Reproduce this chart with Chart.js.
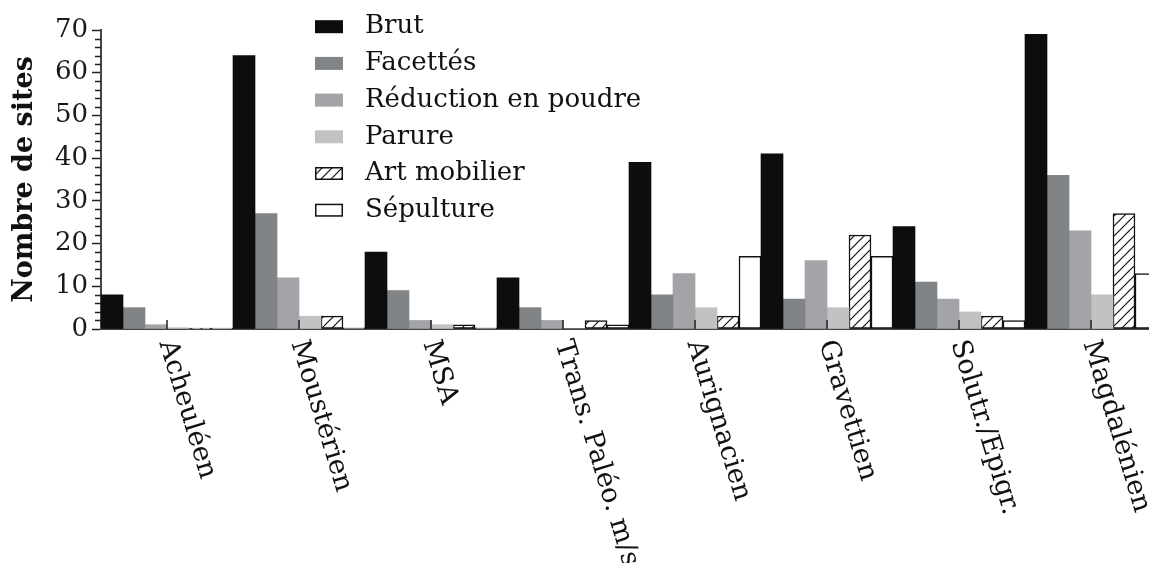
<!DOCTYPE html>
<html><head><meta charset="utf-8">
<script src="https://cdn.jsdelivr.net/npm/chart.js@4.4.1/dist/chart.umd.min.js"></script>
<style>html,body{margin:0;padding:0;background:#fff;overflow:hidden}#wrap{width:1149px;height:563px;overflow:hidden;position:relative}canvas{display:block}</style>
</head><body><div id="wrap"><canvas id="c" width="1157" height="563"></canvas></div>
<script>
const categories = ['Acheuléen','Moustérien','MSA','Trans. Paléo. m/s','Aurignacien','Gravettien','Solutr./Epigr.','Magdalénien'];
const seriesNames = ['Brut','Facettés','Réduction en poudre','Parure','Art mobilier','Sépulture'];
const brut        = [8, 64, 18, 12, 39, 41, 24, 69];
const facettes    = [5, 27, 9, 5, 8, 7, 11, 36];
const reduction   = [1, 12, 2, 2, 13, 16, 7, 23];
const parure      = [0.3, 3, 1, 0, 5, 5, 4, 8];
const artMobilier = [0.2, 3, 1, 2, 3, 22, 3, 27];
const sepulture   = [0.2, 0.3, 0.3, 1, 17, 17, 2, 13];
const yTicks = [0, 10, 20, 30, 40, 50, 60, 70];

const FONT = 'DejaVu Serif';

function makeHatch(){
  const c=document.createElement('canvas'); c.width=10; c.height=10;
  const g=c.getContext('2d');
  g.fillStyle='#fff'; g.fillRect(0,0,10,10);
  g.strokeStyle='#111'; g.lineWidth=1.2;
  g.beginPath();
  g.moveTo(-1,11); g.lineTo(11,-1);
  g.moveTo(-1,1); g.lineTo(1,-1);
  g.moveTo(9,11); g.lineTo(11,9);
  g.stroke();
  return g.createPattern(c,'repeat');
}
const hatch = makeHatch();

const seriesData = [brut, facettes, reduction, parure, artMobilier, sepulture];
const fills = ['#0d0d0d','#808487','#a3a3a8','#c2c2c2', hatch, '#ffffff'];
const borders = ['#0d0d0d','#808487','#a3a3a8','#c2c2c2','#111111','#111111'];
const bw = [0,0,0,0,1.5,1.5];

const datasets = seriesNames.map((n,i)=>({
  label:n, data:seriesData[i], backgroundColor:fills[i], borderColor:borders[i],
  borderWidth:bw[i], borderSkipped:false,
  categoryPercentage:1, barPercentage:1
}));

const deco = {
  id:'deco',
  afterDatasetsDraw(chart){
    const ctx=chart.ctx, xs=chart.scales.x, ys=chart.scales.y, ca=chart.chartArea;
    ctx.save();
    ctx.strokeStyle='#222'; ctx.lineWidth=1.5;
    categories.forEach((c,i)=>{
      const px=Math.round(xs.getPixelForValue(i));
      ctx.beginPath(); ctx.moveTo(px,ca.bottom); ctx.lineTo(px,ca.bottom-9); ctx.stroke();
    });
    for(let v=yTicks[0]; v<=yTicks[yTicks.length-1]; v+=2){
      if(yTicks.includes(v)) continue;
      const py=Math.round(ys.getPixelForValue(v))+0.5;
      ctx.beginPath(); ctx.moveTo(ca.left-6,py); ctx.lineTo(ca.left,py); ctx.stroke();
    }
    ctx.restore();
  },
  afterDraw(chart){
    const ctx=chart.ctx, xs=chart.scales.x, ca=chart.chartArea;
    ctx.save();
    ctx.fillStyle='#111';
    ctx.font='27px "'+FONT+'"';
    ctx.textAlign='left'; ctx.textBaseline='middle';
    categories.forEach((c,i)=>{
      const px=xs.getPixelForValue(i);
      ctx.save();
      ctx.translate(px-1, ca.bottom+12);
      ctx.rotate(73*Math.PI/180);
      ctx.fillText(c,0,0);
      ctx.restore();
    });
    chart.data.datasets.forEach((d,i)=>{
      const cy = 26.7 + i*36.7;
      ctx.fillStyle=d.backgroundColor;
      ctx.fillRect(315, cy-6.5, 28, 13);
      if(d.borderWidth>0){
        ctx.strokeStyle='#111'; ctx.lineWidth=1.5;
        ctx.strokeRect(315.75, cy-5.75, 26.5, 11.5);
      }
      ctx.fillStyle='#111';
      ctx.font='26px "'+FONT+'"';
      ctx.textAlign='left'; ctx.textBaseline='middle';
      ctx.fillText(d.label, 365, cy);
    });
    ctx.restore();
  }
};

new Chart(document.getElementById('c'), {
  type:'bar',
  data:{labels:categories, datasets},
  options:{
    responsive:false, animation:false, devicePixelRatio:1,
    layout:{padding:{top:30,left:0,right:0,bottom:0}},
    plugins:{legend:{display:false}, tooltip:{enabled:false}},
    scales:{
      x:{ type:'category', offset:true,
        grid:{display:false}, border:{display:true,color:'#444',width:2},
        ticks:{display:false},
        afterFit(s){ s.height=234; } },
      y:{ min:0, max:70,
        afterBuildTicks(s){ s.ticks = yTicks.map(v=>({value:v})); },
        ticks:{ font:{family:FONT,size:26}, color:'#1a1a1a', padding:4 },
        grid:{ drawOnChartArea:false, tickLength:9, color:'#222', tickWidth:1.5 },
        border:{ color:'#444', width:2 },
        title:{ display:true, text:'Nombre de sites', color:'#111',
          font:{family:FONT,size:27,weight:'bold'}, padding:{top:9,bottom:0} },
        afterFit(s){ s.width=101; } }
    }
  },
  plugins:[deco]
});
</script></body></html>
